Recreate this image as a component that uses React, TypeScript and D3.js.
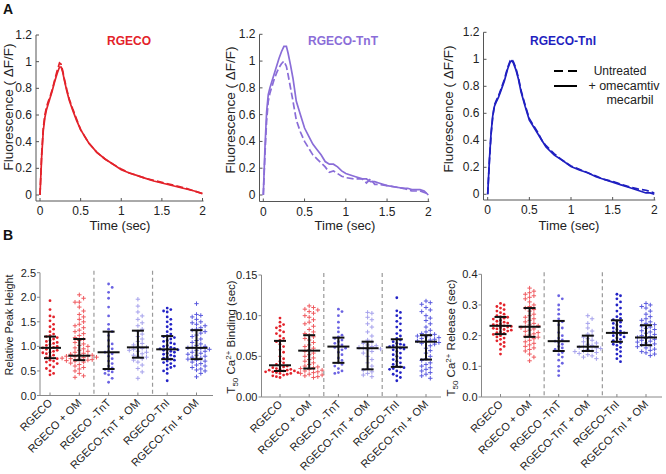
import React from "react";
import * as d3 from "d3";

// ---------- Panel A data (time in sec, ΔF/F) ----------
const tRed = [0, 0.02, 0.04, 0.06, 0.08, 0.1, 0.12, 0.15, 0.18, 0.21, 0.24, 0.26, 0.28, 0.3, 0.33, 0.36, 0.4, 0.45, 0.5, 0.55, 0.6, 0.7, 0.8, 0.9, 1.0, 1.1, 1.2, 1.3, 1.4, 1.5, 1.6, 1.7, 1.8, 1.9, 2.0];
const redUntreated = [0, 0.3, 0.5, 0.6, 0.66, 0.7, 0.73, 0.79, 0.86, 0.93, 0.99, 0.98, 0.93, 0.87, 0.79, 0.72, 0.65, 0.57, 0.49, 0.44, 0.39, 0.32, 0.27, 0.23, 0.195, 0.165, 0.145, 0.125, 0.11, 0.095, 0.08, 0.065, 0.05, 0.03, 0.01];
const redOM = [0, 0.28, 0.48, 0.58, 0.64, 0.68, 0.72, 0.78, 0.85, 0.91, 0.96, 0.96, 0.92, 0.86, 0.78, 0.71, 0.64, 0.56, 0.49, 0.44, 0.39, 0.32, 0.27, 0.23, 0.19, 0.165, 0.145, 0.125, 0.105, 0.09, 0.075, 0.06, 0.045, 0.03, 0.01];

const tTnT = [0, 0.02, 0.04, 0.06, 0.08, 0.1, 0.13, 0.16, 0.19, 0.22, 0.25, 0.28, 0.3, 0.33, 0.36, 0.4, 0.45, 0.5, 0.55, 0.6, 0.65, 0.7, 0.75, 0.8, 0.85, 0.9, 0.95, 1.0, 1.1, 1.2, 1.25, 1.3, 1.35, 1.4, 1.5, 1.6, 1.7, 1.75, 1.8, 1.9, 1.95, 2.0];
const tntOM = [0, 0.35, 0.62, 0.75, 0.8, 0.84, 0.9, 0.96, 1.02, 1.07, 1.11, 1.11, 1.06, 0.97, 0.87, 0.7, 0.6, 0.5, 0.44, 0.38, 0.34, 0.3, 0.25, 0.23, 0.23, 0.21, 0.18, 0.16, 0.14, 0.12, 0.12, 0.1, 0.1, 0.09, 0.07, 0.06, 0.05, 0.05, 0.04, 0.04, 0.03, 0.0];
const tntUntreated = [0, 0.3, 0.55, 0.7, 0.76, 0.8, 0.86, 0.91, 0.95, 0.98, 1.0, 0.96, 0.9, 0.8, 0.7, 0.56, 0.47, 0.4, 0.35, 0.3, 0.27, 0.24, 0.21, 0.17, 0.18, 0.16, 0.14, 0.13, 0.12, 0.12, 0.09, 0.12, 0.08, 0.08, 0.07, 0.06, 0.05, 0.04, 0.03, 0.03, 0.02, 0.01];

const tTnI = [0, 0.02, 0.04, 0.06, 0.08, 0.1, 0.13, 0.16, 0.2, 0.24, 0.27, 0.29, 0.31, 0.34, 0.37, 0.4, 0.45, 0.5, 0.55, 0.6, 0.65, 0.7, 0.8, 0.9, 1.0, 1.1, 1.2, 1.3, 1.4, 1.5, 1.6, 1.7, 1.8, 1.9, 1.95, 2.0];
const tniOM = [0, 0.25, 0.45, 0.58, 0.65, 0.68, 0.72, 0.77, 0.84, 0.93, 0.98, 0.99, 0.97, 0.92, 0.85, 0.76, 0.65, 0.55, 0.5, 0.45, 0.4, 0.35, 0.29, 0.25, 0.205, 0.18, 0.16, 0.13, 0.11, 0.09, 0.07, 0.05, 0.03, 0.01, 0.01, 0.0];
const tniUntreated = [0, 0.24, 0.44, 0.57, 0.66, 0.69, 0.73, 0.78, 0.85, 0.94, 0.99, 1.0, 0.98, 0.93, 0.86, 0.77, 0.66, 0.56, 0.51, 0.46, 0.4, 0.36, 0.3, 0.25, 0.21, 0.185, 0.16, 0.135, 0.11, 0.095, 0.075, 0.055, 0.04, 0.03, 0.02, 0.01];

const aXTicks = [0, 0.5, 1, 1.5, 2];
const aYTicks = [0, 0.2, 0.4, 0.6, 0.8, 1, 1.2];

// ---------- Panel B data ----------
const categories = ["RGECO", "RGECO + OM", "RGECO -TnT", "RGECO-TnT + OM", "RGECO-TnI", "RGECO-TnI + OM"];

// Relative peak height
const peakRGECO = [0.42, 0.45, 0.5, 0.55, 0.58, 0.62, 0.65, 0.68, 0.7, 0.72, 0.75, 0.77, 0.8, 0.82, 0.85, 0.87, 0.88, 0.9, 0.92, 0.94, 0.96, 0.97, 0.98, 1.0, 1.02, 1.04, 1.06, 1.08, 1.1, 1.12, 1.15, 1.18, 1.2, 1.22, 1.25, 1.3, 1.35, 1.4, 1.45, 1.52, 1.6, 1.62, 1.75, 1.93];
const peakRGECO_OM = [2.05, 1.98, 1.9, 1.9, 1.8, 1.72, 1.65, 1.6, 1.55, 1.5, 1.45, 1.42, 1.38, 1.33, 1.3, 1.26, 1.22, 1.18, 1.15, 1.12, 1.08, 1.05, 1.02, 1.0, 0.97, 0.95, 0.92, 0.9, 0.88, 0.86, 0.84, 0.83, 0.82, 0.81, 0.8, 0.79, 0.78, 0.77, 0.76, 0.75, 0.74, 0.73, 0.72, 0.71, 0.7, 0.68, 0.66, 0.63, 0.6, 0.57, 0.54, 0.5, 0.45, 0.4, 0.37];
const peakTnT = [2.27, 2.2, 2.1, 1.98, 1.8, 1.62, 1.45, 1.35, 1.3, 1.22, 1.12, 1.05, 1.0, 0.95, 0.9, 0.88, 0.85, 0.8, 0.75, 0.7, 0.65, 0.6, 0.56, 0.53, 0.5, 0.48, 0.45, 0.42, 0.35, 0.27];
const peakTnT_OM = [1.96, 1.82, 1.7, 1.62, 1.55, 1.48, 1.42, 1.35, 1.3, 1.25, 1.2, 1.15, 1.1, 1.06, 1.03, 1.0, 0.98, 0.96, 0.94, 0.92, 0.9, 0.88, 0.85, 0.82, 0.8, 0.78, 0.75, 0.72, 0.68, 0.62, 0.55, 0.48, 0.35];
const peakTnI = [1.78, 1.75, 1.72, 1.7, 1.6, 1.55, 1.5, 1.45, 1.4, 1.35, 1.3, 1.25, 1.22, 1.2, 1.18, 1.15, 1.12, 1.1, 1.07, 1.05, 1.02, 1.0, 0.98, 0.96, 0.95, 0.94, 0.93, 0.92, 0.9, 0.88, 0.86, 0.84, 0.82, 0.8, 0.78, 0.76, 0.74, 0.72, 0.7, 0.67, 0.65, 0.62, 0.6, 0.57, 0.54, 0.5, 0.45, 0.3];
const peakTnI_OM = [1.87, 1.65, 1.63, 1.6, 1.55, 1.5, 1.48, 1.45, 1.42, 1.38, 1.35, 1.33, 1.3, 1.27, 1.23, 1.2, 1.15, 1.12, 1.08, 1.05, 1.02, 1.0, 0.98, 0.97, 0.96, 0.94, 0.92, 0.9, 0.88, 0.86, 0.84, 0.82, 0.8, 0.78, 0.76, 0.74, 0.72, 0.7, 0.68, 0.65, 0.62, 0.6, 0.57, 0.54, 0.52, 0.5, 0.45, 0.38];
const peakMedian = [0.97, 0.81, 0.88, 0.98, 0.94, 0.97];
const peakLow = [0.76, 0.72, 0.54, 0.77, 0.74, 0.74];
const peakHigh = [1.2, 1.15, 1.3, 1.32, 1.21, 1.33];

// T50 Ca2+ binding (sec)
const bindRGECO = [0.097, 0.092, 0.089, 0.087, 0.085, 0.082, 0.08, 0.078, 0.075, 0.072, 0.07, 0.068, 0.065, 0.062, 0.058, 0.055, 0.05, 0.047, 0.044, 0.042, 0.04, 0.039, 0.038, 0.037, 0.036, 0.035, 0.034, 0.034, 0.033, 0.033, 0.032, 0.032, 0.031, 0.031, 0.03, 0.03, 0.029, 0.029, 0.028, 0.027, 0.026, 0.025, 0.024];
const bindRGECO_OM = [0.112, 0.11, 0.108, 0.107, 0.105, 0.103, 0.1, 0.098, 0.095, 0.092, 0.09, 0.087, 0.083, 0.08, 0.078, 0.076, 0.074, 0.072, 0.07, 0.067, 0.064, 0.062, 0.06, 0.058, 0.056, 0.054, 0.052, 0.05, 0.048, 0.046, 0.044, 0.042, 0.04, 0.038, 0.037, 0.036, 0.035, 0.034, 0.033, 0.032, 0.031, 0.03, 0.029, 0.028, 0.027, 0.026, 0.025, 0.024];
const bindTnT = [0.108, 0.105, 0.1, 0.092, 0.085, 0.08, 0.076, 0.074, 0.072, 0.07, 0.068, 0.066, 0.064, 0.062, 0.061, 0.06, 0.058, 0.055, 0.052, 0.048, 0.045, 0.042, 0.04, 0.038, 0.035, 0.032, 0.03, 0.029];
const bindTnT_OM = [0.104, 0.103, 0.098, 0.095, 0.09, 0.086, 0.08, 0.075, 0.07, 0.068, 0.066, 0.064, 0.063, 0.062, 0.061, 0.06, 0.059, 0.058, 0.056, 0.054, 0.05, 0.046, 0.042, 0.038, 0.035, 0.033, 0.031, 0.029, 0.027, 0.025];
const bindTnI = [0.122, 0.106, 0.104, 0.1, 0.097, 0.093, 0.09, 0.086, 0.082, 0.078, 0.075, 0.072, 0.07, 0.068, 0.066, 0.065, 0.064, 0.063, 0.062, 0.061, 0.06, 0.059, 0.058, 0.056, 0.054, 0.052, 0.05, 0.048, 0.046, 0.044, 0.042, 0.04, 0.038, 0.037, 0.036, 0.035, 0.034, 0.032, 0.03, 0.028, 0.026, 0.024, 0.02];
const bindTnI_OM = [0.118, 0.116, 0.114, 0.11, 0.107, 0.105, 0.1, 0.097, 0.094, 0.09, 0.086, 0.082, 0.08, 0.078, 0.077, 0.076, 0.075, 0.074, 0.073, 0.072, 0.071, 0.07, 0.069, 0.068, 0.067, 0.066, 0.065, 0.063, 0.06, 0.057, 0.054, 0.05, 0.047, 0.045, 0.042, 0.04, 0.038, 0.036, 0.034, 0.032, 0.03, 0.028, 0.026, 0.023];
const bindMedian = [0.039, 0.057, 0.062, 0.06, 0.061, 0.068];
const bindLow = [0.032, 0.035, 0.042, 0.034, 0.037, 0.046];
const bindHigh = [0.069, 0.076, 0.073, 0.068, 0.071, 0.076];

// T50 Ca2+ release (sec)
const relRGECO = [0.305, 0.3, 0.295, 0.29, 0.285, 0.28, 0.275, 0.27, 0.265, 0.262, 0.26, 0.257, 0.254, 0.25, 0.247, 0.244, 0.241, 0.238, 0.236, 0.234, 0.232, 0.23, 0.228, 0.226, 0.224, 0.222, 0.22, 0.218, 0.215, 0.212, 0.21, 0.207, 0.204, 0.2, 0.196, 0.192, 0.188, 0.183, 0.178, 0.172, 0.165, 0.155, 0.14];
const relRGECO_OM = [0.355, 0.345, 0.34, 0.335, 0.33, 0.325, 0.32, 0.31, 0.3, 0.295, 0.29, 0.285, 0.28, 0.27, 0.265, 0.26, 0.255, 0.25, 0.245, 0.24, 0.235, 0.232, 0.229, 0.226, 0.222, 0.218, 0.214, 0.21, 0.206, 0.202, 0.198, 0.195, 0.19, 0.185, 0.18, 0.175, 0.17, 0.165, 0.16, 0.155, 0.15, 0.14, 0.13, 0.118];
const relTnT = [0.33, 0.32, 0.3, 0.285, 0.27, 0.255, 0.245, 0.235, 0.225, 0.21, 0.2, 0.192, 0.186, 0.182, 0.178, 0.172, 0.165, 0.16, 0.155, 0.15, 0.145, 0.138, 0.13, 0.12, 0.11, 0.1, 0.085, 0.07];
const relTnT_OM = [0.265, 0.255, 0.24, 0.225, 0.215, 0.205, 0.2, 0.195, 0.19, 0.185, 0.18, 0.176, 0.172, 0.168, 0.165, 0.162, 0.16, 0.158, 0.155, 0.152, 0.15, 0.148, 0.145, 0.142, 0.138, 0.134, 0.13, 0.125];
const relTnI = [0.335, 0.33, 0.32, 0.31, 0.3, 0.29, 0.28, 0.27, 0.262, 0.256, 0.252, 0.248, 0.244, 0.24, 0.235, 0.23, 0.225, 0.22, 0.215, 0.212, 0.209, 0.206, 0.203, 0.2, 0.196, 0.192, 0.188, 0.184, 0.18, 0.176, 0.172, 0.168, 0.162, 0.155, 0.148, 0.14, 0.133, 0.125, 0.115];
const relTnI_OM = [0.305, 0.3, 0.295, 0.29, 0.28, 0.27, 0.262, 0.255, 0.25, 0.245, 0.24, 0.236, 0.232, 0.228, 0.224, 0.22, 0.216, 0.212, 0.208, 0.204, 0.2, 0.197, 0.194, 0.191, 0.188, 0.185, 0.182, 0.179, 0.176, 0.173, 0.17, 0.167, 0.164, 0.16, 0.156, 0.152, 0.148, 0.144, 0.14, 0.135];
const relMedian = [0.232, 0.229, 0.182, 0.164, 0.209, 0.194];
const relLow = [0.205, 0.196, 0.15, 0.15, 0.18, 0.169];
const relHigh = [0.261, 0.29, 0.248, 0.2, 0.25, 0.234];

const peakTicks = [0, 0.5, 1.0, 1.5, 2.0, 2.5];
const bindTicks = [0, 0.05, 0.1, 0.15];
const relTicks = [0, 0.1, 0.2, 0.3, 0.4];

// ---------- styles ----------
const FONT = "Arial, 'Liberation Sans', sans-serif";
const RED = "#e3222a";
const PURPLE = "#8a6dd8";
const BLUE = "#1f1fc0";
const groupColors = ["#e3222a", "#ef5a5f", "#6a62e2", "#a6a2ec", "#2222c6", "#5a5ade"];
const groupIsPlus = [false, true, false, true, false, true];
const AXIS_A = "#555";
const AXIS_B = "#888";

type APanel = {
  title: string; color: string; t: number[]; solid: number[]; dashed: number[];
  x0: number; x1: number; y0: number; y1: number; axX: number; axY: number;
  titleX: number; labelX: number; labelY: number; timeX: number; legend?: boolean;
};

const aPanels: APanel[] = [
  { title: "RGECO", color: RED, t: tRed, solid: redOM, dashed: redUntreated, x0: 40, x1: 202.5, y0: 195, y1: 35, axX: 36, axY: 201, titleX: 129, labelX: 13, labelY: 107, timeX: 120 },
  { title: "RGECO-TnT", color: PURPLE, t: tTnT, solid: tntOM, dashed: tntUntreated, x0: 263.3, x1: 428.3, y0: 195, y1: 34.3, axX: 259.5, axY: 201.5, titleX: 343, labelX: 235, labelY: 110, timeX: 345 },
  { title: "RGECO-TnI", color: BLUE, t: tTnI, solid: tniOM, dashed: tniUntreated, x0: 487.7, x1: 654.3, y0: 194.3, y1: 32.3, axX: 483.5, axY: 200, titleX: 563, labelX: 453, labelY: 109, timeX: 569, legend: true },
];

function PanelA({ p }: { p: APanel }) {
  const x = d3.scaleLinear().domain([0, 2]).range([p.x0, p.x1]);
  const y = d3.scaleLinear().domain([0, 1.2]).range([p.y0, p.y1]);
  const mk = (vals: number[]) =>
    d3.line<number>().x((_, i) => x(p.t[i])).y((v) => y(v))(vals) || "";
  return (
    <g>
      <line x1={p.axX} x2={p.axX} y1={y(1.2)} y2={p.axY} stroke={AXIS_A} strokeWidth={1} />
      <line x1={p.axX} x2={x(2) + 1} y1={p.axY} y2={p.axY} stroke={AXIS_A} strokeWidth={1} />
      {aYTicks.map((v) => (
        <g key={"y" + v}>
          <line x1={p.axX} x2={p.axX + 3} y1={y(v)} y2={y(v)} stroke={AXIS_A} />
          <text x={p.axX - 4} y={y(v) + 4} textAnchor="end" fontSize={12} fontFamily={FONT} fill="#222">{String(v)}</text>
        </g>
      ))}
      {aXTicks.map((v) => (
        <g key={"x" + v}>
          <line x1={x(v)} x2={x(v)} y1={p.axY} y2={p.axY - 3} stroke={AXIS_A} />
          <text x={x(v)} y={p.axY + 14} textAnchor="middle" fontSize={12} fontFamily={FONT} fill="#222">{String(v)}</text>
        </g>
      ))}
      <text x={p.timeX} y={230} textAnchor="middle" fontSize={13} fontFamily={FONT} fill="#222">Time (sec)</text>
      <text transform={`translate(${p.labelX},${p.labelY}) rotate(-90)`} textAnchor="middle" fontSize={13.5} fontFamily={FONT} fill="#222">Fluorescence ( ΔF/F)</text>
      <text x={p.titleX} y={44.5} textAnchor="middle" fontSize={12} fontWeight="bold" fontFamily={FONT} fill={p.color}>{p.title}</text>
      <path d={mk(p.dashed)} fill="none" stroke={p.color} strokeWidth={1.7} strokeDasharray="7,3" />
      <path d={mk(p.solid)} fill="none" stroke={p.color} strokeWidth={1.7} />
      {p.legend && (
        <g>
          <line x1={554} x2={577} y1={71} y2={71} stroke="#000" strokeWidth={2} strokeDasharray="9,5" />
          <text x={620} y={75} textAnchor="middle" fontSize={12} fontFamily={FONT} fill="#222">Untreated</text>
          <line x1={554} x2={577} y1={86} y2={86} stroke="#000" strokeWidth={2} />
          <text x={624} y={90} textAnchor="middle" fontSize={12.5} fontFamily={FONT} fill="#222">+ omecamtiv</text>
          <text x={630} y={104} textAnchor="middle" fontSize={12.5} fontFamily={FONT} fill="#222">mecarbil</text>
        </g>
      )}
    </g>
  );
}

function swarm(values: number[], ys: (v: number) => number, step: number) {
  const pts = values.map((v) => ys(v)).sort((a, b) => a - b);
  const placed: { x: number; y: number }[] = [];
  for (const py of pts) {
    let k = 0;
    let off = 0;
    for (;;) {
      off = k === 0 ? 0 : (k % 2 === 1 ? 1 : -1) * Math.ceil(k / 2) * step;
      const o = off;
      const ok = placed.every((q) => (q.x - o) ** 2 + (q.y - py) ** 2 >= step * step);
      if (ok) break;
      k++;
    }
    placed.push({ x: off, y: py });
  }
  return placed;
}

type BPanel = {
  groups: number[][]; median: number[]; low: number[]; high: number[]; ticks: number[]; fmt: string; max: number;
  axX: number; axY: number; top: number; right: number; c0: number; c5: number; labelX: number; labelY: number;
  labelSize: number; label: React.ReactNode;
};

const bPanels: BPanel[] = [
  {
    groups: [peakRGECO, peakRGECO_OM, peakTnT, peakTnT_OM, peakTnI, peakTnI_OM], median: peakMedian, low: peakLow, high: peakHigh,
    ticks: peakTicks, fmt: ".1f", max: 2.5, axX: 40, axY: 395.5, top: 272.7, right: 213, c0: 50, c5: 196.5, labelX: 12.5, labelY: 325,
    labelSize: 10.8, label: "Relative Peak Height",
  },
  {
    groups: [bindRGECO, bindRGECO_OM, bindTnT, bindTnT_OM, bindTnI, bindTnI_OM], median: bindMedian, low: bindLow, high: bindHigh,
    ticks: bindTicks, fmt: ".2f", max: 0.15, axX: 261.5, axY: 397, top: 275, right: 441, c0: 280, c5: 426, labelX: 235, labelY: 337,
    labelSize: 11.5,
    label: (<>T<tspan fontSize={8} dy={3}>50</tspan><tspan dy={-3}> Ca</tspan><tspan fontSize={8} dy={-4}>2+</tspan><tspan dy={4}> Binding (sec)</tspan></>),
  },
  {
    groups: [relRGECO, relRGECO_OM, relTnT, relTnT_OM, relTnI, relTnI_OM], median: relMedian, low: relLow, high: relHigh,
    ticks: relTicks, fmt: ".1f", max: 0.4, axX: 481.5, axY: 397, top: 274.3, right: 662, c0: 500.5, c5: 646, labelX: 455, labelY: 338,
    labelSize: 11.5,
    label: (<>T<tspan fontSize={8} dy={3}>50</tspan><tspan dy={-3}> Ca</tspan><tspan fontSize={8} dy={-4}>2+</tspan><tspan dy={4}> Release (sec)</tspan></>),
  },
];

function PanelB({ p }: { p: BPanel }) {
  const y = d3.scaleLinear().domain([0, p.max]).range([p.axY, p.top]);
  const x = d3.scalePoint<string>().domain(categories).range([p.c0, p.c5]);
  const f = d3.format(p.fmt);
  const sep1 = ((x(categories[1]) as number) + (x(categories[2]) as number)) / 2;
  const sep2 = ((x(categories[3]) as number) + (x(categories[4]) as number)) / 2;
  return (
    <g>
      {[sep1, sep2].map((s, i) => (
        <line key={"s" + i} x1={s} x2={s} y1={p.top - 2} y2={p.axY} stroke="#999" strokeWidth={1.2} strokeDasharray="4,3" />
      ))}
      {p.groups.map((vals, gi) => {
        const cx = x(categories[gi]) as number;
        const plus = groupIsPlus[gi];
        const pts = swarm(vals, y, plus ? 4.3 : 3.6);
        const col = groupColors[gi];
        return (
          <g key={"g" + gi}>
            {pts.map((q, i) =>
              plus ? (
                <path key={i} d={`M${cx + q.x - 2.2},${q.y}h4.4M${cx + q.x},${q.y - 2.2}v4.4`} stroke={col} strokeWidth={1} fill="none" />
              ) : (
                <circle key={i} cx={cx + q.x} cy={q.y} r={1.4} fill={col} />
              )
            )}
          </g>
        );
      })}
      {categories.map((c, gi) => {
        const cx = x(c) as number;
        return (
          <g key={"e" + gi} stroke="#111" strokeWidth={2}>
            <line x1={cx} x2={cx} y1={y(p.low[gi])} y2={y(p.high[gi])} />
            <line x1={cx - 6} x2={cx + 6} y1={y(p.low[gi])} y2={y(p.low[gi])} />
            <line x1={cx - 6} x2={cx + 6} y1={y(p.high[gi])} y2={y(p.high[gi])} />
            <line x1={cx - 11} x2={cx + 11} y1={y(p.median[gi])} y2={y(p.median[gi])} />
          </g>
        );
      })}
      <line x1={p.axX} x2={p.axX} y1={p.top} y2={p.axY} stroke={AXIS_B} />
      <line x1={p.axX} x2={p.right} y1={p.axY} y2={p.axY} stroke={AXIS_B} />
      {p.ticks.map((v) => (
        <g key={"t" + v}>
          <line x1={p.axX} x2={p.axX - 3} y1={y(v)} y2={y(v)} stroke={AXIS_B} />
          <text x={p.axX - 4} y={y(v) + 4} textAnchor="end" fontSize={11} fontFamily={FONT} fill="#222">{f(v)}</text>
        </g>
      ))}
      {categories.map((c) => {
        const cx = x(c) as number;
        return (
          <g key={"c" + c}>
            <line x1={cx} x2={cx} y1={p.axY} y2={p.axY - 3} stroke={AXIS_B} />
            <text transform={`translate(${cx + 3},${p.axY + 8}) rotate(-45)`} textAnchor="end" fontSize={11} fontFamily={FONT} fill="#222">{c}</text>
          </g>
        );
      })}
      <text transform={`translate(${p.labelX},${p.labelY}) rotate(-90)`} textAnchor="middle" fontSize={p.labelSize} fontFamily={FONT} fill="#222">{p.label}</text>
    </g>
  );
}

export default function App() {
  return (
    <svg width={666} height={474} style={{ position: "absolute", left: 0, top: 0, background: "#fff" }}>
      <rect width={666} height={474} fill="#fff" />
      <text x={3} y={14} fontSize={14} fontWeight="bold" fontFamily={FONT} fill="#111">A</text>
      <text x={3} y={240} fontSize={14} fontWeight="bold" fontFamily={FONT} fill="#111">B</text>
      {aPanels.map((p, i) => <PanelA key={i} p={p} />)}
      {bPanels.map((p, i) => <PanelB key={i} p={p} />)}
    </svg>
  );
}
